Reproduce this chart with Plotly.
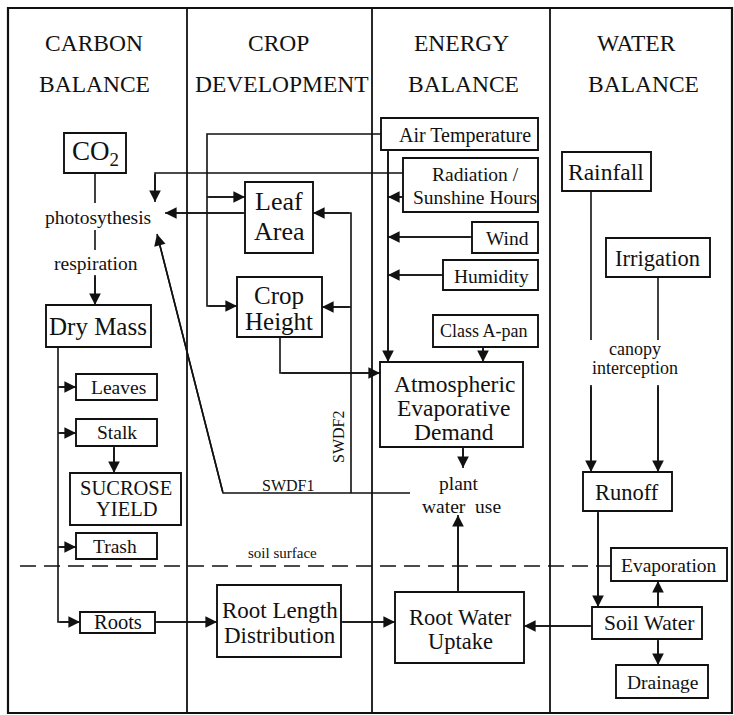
import plotly.graph_objects as go

W, H = 734, 715
FONT = "Liberation Serif"
INK = "#111111"

# ---- Column headers ----
header_text = ["CARBON", "BALANCE", "CROP", "DEVELOPMENT", "ENERGY", "BALANCE", "WATER", "BALANCE"]
header_x = [94, 94, 278, 282, 461, 463, 636, 643]
header_y = [43, 84, 43, 84, 43, 84, 43, 84]

# ---- Boxes: text lines ----
box_text = [
    ["CO<sub>2</sub>"], ["Dry Mass"], ["Leaf", "Area"], ["Crop", "Height"],
    ["Air Temperature"], ["Radiation /", "Sunshine Hours"], ["Wind"], ["Humidity"],
    ["Class A-pan"], ["Rainfall"], ["Irrigation"],
    ["Atmospheric", "Evaporative", "Demand"], ["Runoff"], ["Evaporation"],
    ["Soil Water"], ["Drainage"], ["Root Water", "Uptake"],
    ["Root Length", "Distribution"], ["Roots"], ["Leaves"], ["Stalk"],
    ["SUCROSE", "YIELD"], ["Trash"],
]
box_rect = [
    (64, 133, 126, 173), (46, 305, 151, 347), (245, 182, 313, 253), (237, 277, 322, 337),
    (381, 118, 538, 150), (403, 158, 538, 212), (472, 222, 538, 253), (443, 260, 538, 290),
    (433, 315, 538, 347), (562, 152, 651, 191), (606, 238, 710, 277),
    (380, 362, 523, 447), (583, 472, 672, 511), (611, 548, 727, 581),
    (592, 607, 702, 639), (616, 665, 708, 698), (395, 592, 524, 663),
    (217, 585, 341, 657), (80, 612, 155, 633), (76, 374, 157, 400), (76, 419, 157, 446),
    (70, 473, 181, 525), (76, 533, 157, 559),
]
box_text_x = [95, 98, 279, 279, 465, 475, 507, 491, 484, 606, 657, 454, 627, 669,
              649, 662, 460, 280, 118, 118, 117, 126, 115]
box_text_y = [
    [153], [326], [201, 231], [295, 321], [135], [174, 197], [238], [276], [331],
    [172], [258], [384, 408, 432], [492], [565], [623], [682], [617, 641],
    [610, 635], [622], [387], [432], [488, 509], [546],
]
box_font = [27, 25, 26, 25, 20, 19.5, 19.5, 19.5, 18, 23.5, 22.5, 23.5, 22.5, 19.5, 21.5, 19.5, 22.5,
            23, 20.5, 19.5, 19.5, 20.5, 19.5]

# ---- Free labels ----
free_text = ["photosythesis", "respiration", "plant", "water  use", "canopy",
             "interception", "soil surface", "SWDF1"]
free_x = [98, 96, 459, 461, 635, 635, 282, 288]
free_y = [217, 263, 483, 506, 349, 368, 553, 485]
free_font = [19.5, 19.5, 19.5, 19.5, 18, 18, 15, 16]

# ---- Connectors (polylines); arrow=True puts a head at the last point ----
connectors = [
    ([(95, 173), (95, 203)], False),
    ([(95, 230), (95, 250)], False),
    ([(95, 275), (95, 305)], True),
    ([(245, 213), (165, 213)], True),
    ([(403, 173), (155, 173), (155, 202)], True),
    ([(381, 134), (207, 134), (207, 306), (237, 306)], True),
    ([(207, 197), (245, 197)], True),
    ([(351, 493), (351, 213), (313, 213)], True),
    ([(351, 307), (322, 307)], True),
    ([(410, 493), (223, 493), (157, 234)], True),
    ([(280, 337), (280, 373), (380, 373)], True),
    ([(388, 150), (388, 362)], True),
    ([(403, 197), (388, 197)], True),
    ([(472, 237), (388, 237)], True),
    ([(443, 275), (388, 275)], True),
    ([(483, 347), (483, 362)], True),
    ([(463, 447), (463, 468)], True),
    ([(458, 592), (458, 515)], True),
    ([(591, 191), (591, 340)], False),
    ([(591, 385), (591, 472)], True),
    ([(658, 277), (658, 340)], False),
    ([(658, 385), (658, 472)], True),
    ([(598, 511), (598, 607)], True),
    ([(658, 607), (658, 581)], True),
    ([(658, 639), (658, 665)], True),
    ([(592, 626), (524, 626)], True),
    ([(341, 622), (395, 622)], True),
    ([(155, 622), (217, 622)], True),
    ([(58, 347), (58, 622), (80, 622)], True),
    ([(58, 387), (76, 387)], True),
    ([(58, 433), (76, 433)], True),
    ([(58, 547), (76, 547)], True),
    ([(114, 446), (114, 473)], True),
]

frame = (8, 8, 732, 713)
col_dividers = [187, 372, 550]
soil_y = 566
soil_x = (20, 611)

fig = go.Figure()
shapes = []
annotations = []

shapes.append(dict(type="rect", x0=frame[0], y0=frame[1], x1=frame[2], y1=frame[3],
                   line=dict(color=INK, width=2.2)))
for cx in col_dividers:
    shapes.append(dict(type="line", x0=cx, x1=cx, y0=frame[1], y1=frame[3],
                       line=dict(color=INK, width=1.8)))
shapes.append(dict(type="line", x0=soil_x[0], x1=soil_x[1], y0=soil_y, y1=soil_y,
                   line=dict(color=INK, width=1.4, dash="16px,8px")))

for r in box_rect:
    shapes.append(dict(type="rect", x0=r[0], y0=r[1], x1=r[2], y1=r[3],
                       line=dict(color=INK, width=1.9), fillcolor="white", layer="below"))

for pts, arrow in connectors:
    path = "M " + " L ".join(f"{x},{y}" for x, y in pts)
    shapes.append(dict(type="path", path=path, line=dict(color=INK, width=1.6)))
    if arrow:
        (ax, ay), (x, y) = pts[-2], pts[-1]
        annotations.append(dict(x=x, y=y, ax=ax, ay=ay, xref="x", yref="y",
                                axref="x", ayref="y", text="", showarrow=True,
                                arrowhead=2, arrowsize=1.45, arrowwidth=1.6,
                                arrowcolor=INK, standoff=0, startstandoff=0))

def label(t, x, y, size, angle=0):
    annotations.append(dict(x=x, y=y, xref="x", yref="y", text=t, showarrow=False,
                            xanchor="center", yanchor="middle", textangle=angle,
                            font=dict(family=FONT, size=size, color=INK)))

for t, x, y in zip(header_text, header_x, header_y):
    label(t, x, y, 23.5)
for lines, x, ys, fs in zip(box_text, box_text_x, box_text_y, box_font):
    for t, y in zip(lines, ys):
        label(t, x, y, fs)
for t, x, y, fs in zip(free_text, free_x, free_y, free_font):
    label(t, x, y, fs)
label("SWDF2", 338, 437, 16, angle=-90)

fig.update_layout(
    width=W, height=H, margin=dict(l=0, r=0, t=0, b=0),
    paper_bgcolor="white", plot_bgcolor="white",
    xaxis=dict(range=[0, W], visible=False, fixedrange=True),
    yaxis=dict(range=[H, 0], visible=False, fixedrange=True),
    shapes=shapes, annotations=annotations, showlegend=False,
)
fig.write_html("out.html", config=dict(displayModeBar=False),
               post_script="document.body.style.margin='0';document.body.style.overflow='hidden';")
